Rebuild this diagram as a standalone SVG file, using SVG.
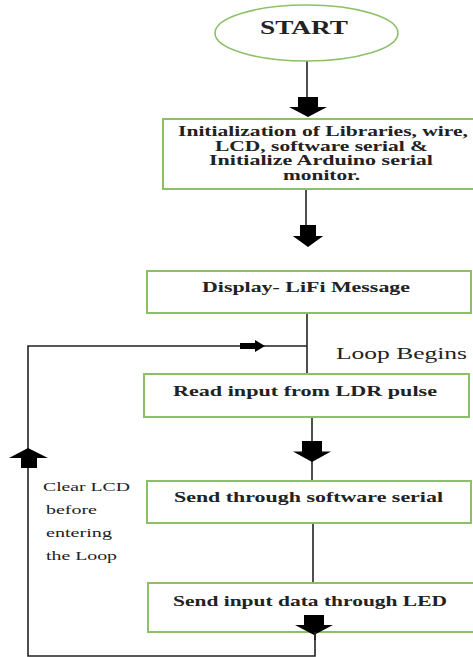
<svg xmlns="http://www.w3.org/2000/svg" width="473" height="657" viewBox="0 0 473 657">
<style>
.box{fill:#fff;stroke:#8cc068;stroke-width:2}
.ln{fill:none;stroke:#222;stroke-width:1.6}
.arr{fill:#000}
.bt{font-family:"Liberation Serif","Times New Roman",serif;font-weight:bold;font-size:15px;fill:#222;text-anchor:middle}
.it{font-size:14px}
.nt{font-family:"Liberation Serif","Times New Roman",serif;font-size:16px;fill:#222}
.st{font-family:"Liberation Serif","Times New Roman",serif;font-size:12px;fill:#222}
</style>
<defs>
<path id="down" d="M-10,-20 H10 V-10 H19 L0,0 L-19,-10 H-10 Z"/>
</defs>
<rect width="473" height="657" fill="#fff"/>
<g id="connectors">
<path class="ln" d="M307,61 V100"/>
<path class="ln" d="M306,189 V228"/>
<path class="ln" d="M307,313 V374"/>
<path class="ln" d="M307,346 H28 V656 H315 V632"/>
<path class="ln" d="M312,417 V481"/>
<path class="ln" d="M313,523 V583"/>
<use href="#down" class="arr" transform="translate(308,117)"/>
<use href="#down" class="arr" transform="translate(308,247) scale(0.8,1.1)"/>
<use href="#down" class="arr" transform="translate(312,462) scale(1,1.05)"/>
<path class="arr" d="M240,343 H255 V340 L265,346 L255,352 V349 H240 Z"/>
<path class="arr" d="M28,448 L48,458 H37 V468 H21 V458 H9 Z"/>
</g>
<g id="start">
<ellipse cx="306.5" cy="33" rx="91.5" ry="28" fill="#fff" stroke="#8cc068" stroke-width="1.6"/>
<text class="bt" x="304" y="34" style="font-size:18px" textLength="88" lengthAdjust="spacingAndGlyphs">START</text>
</g>
<g id="init">
<rect class="box" x="163" y="119" width="315" height="70"/>
<text class="bt it" x="323" y="136" textLength="290" lengthAdjust="spacingAndGlyphs">Initialization of Libraries, wire,</text>
<text class="bt it" x="321.5" y="150.5" textLength="213" lengthAdjust="spacingAndGlyphs">LCD, software serial &amp;</text>
<text class="bt it" x="321" y="165" textLength="224" lengthAdjust="spacingAndGlyphs">Initialize Arduino serial</text>
<text class="bt it" x="321.5" y="179.5" textLength="77" lengthAdjust="spacingAndGlyphs">monitor.</text>
</g>
<g id="display">
<rect class="box" x="147" y="271" width="324" height="42"/>
<text class="bt" x="306" y="292" textLength="208" lengthAdjust="spacingAndGlyphs">Display- LiFi Message</text>
</g>
<g id="loopLabel">
<text class="nt" x="336" y="359" textLength="131" lengthAdjust="spacingAndGlyphs">Loop Begins</text>
</g>
<g id="read">
<rect class="box" x="144" y="374" width="325" height="43"/>
<text class="bt" x="305" y="396" textLength="264" lengthAdjust="spacingAndGlyphs">Read input from LDR pulse</text>
</g>
<g id="send">
<rect class="box" x="147" y="481" width="324" height="42"/>
<text class="bt" x="308.5" y="502" textLength="269" lengthAdjust="spacingAndGlyphs">Send through software serial</text>
</g>
<g id="led">
<rect class="box" x="148" y="583" width="330" height="49"/>
<text class="bt" x="310" y="606" textLength="274" lengthAdjust="spacingAndGlyphs">Send input data through LED</text>
<use href="#down" class="arr" transform="translate(314,635)"/>
<path class="ln" d="M315,632 V640"/>
</g>
<g id="clearLabel">
<text class="st" x="43" y="491" textLength="87" lengthAdjust="spacingAndGlyphs">Clear LCD</text>
<text class="st" x="46" y="514" textLength="51" lengthAdjust="spacingAndGlyphs">before</text>
<text class="st" x="46" y="537" textLength="66" lengthAdjust="spacingAndGlyphs">entering</text>
<text class="st" x="46" y="560" textLength="71" lengthAdjust="spacingAndGlyphs">the Loop</text>
</g>
</svg>
